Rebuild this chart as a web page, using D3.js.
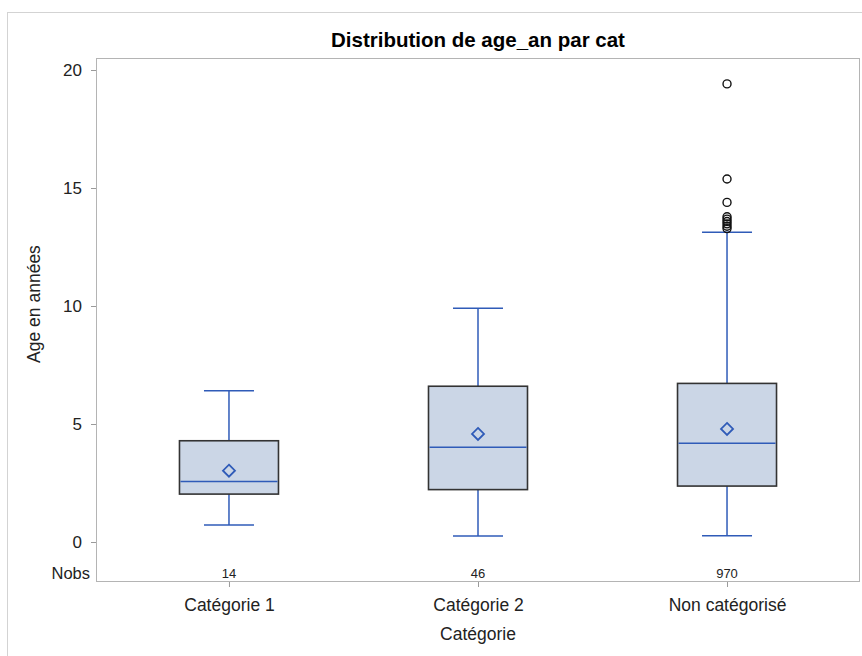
<!DOCTYPE html>
<html>
<head>
<meta charset="utf-8">
<script src="https://cdn.jsdelivr.net/npm/d3@7"></script>
<style>
  html, body { margin: 0; padding: 0; background: #fff; }
  svg { display: block; font-family: "Liberation Sans", Arial, sans-serif; }
</style>
</head>
<body>
<svg id="chart" width="862" height="656"></svg>
<script>
// Summary statistics per category (ages in years)
const categories = ["Catégorie 1", "Catégorie 2", "Non catégorisé"];
const nobs       = [14, 46, 970];
const whiskerLow = [0.72, 0.25, 0.27];
const q1         = [2.03, 2.22, 2.37];
const median     = [2.56, 4.01, 4.18];
const q3         = [4.29, 6.60, 6.72];
const whiskerHigh= [6.41, 9.90, 13.12];
const means      = [3.02, 4.58, 4.79];
const outliers   = [[], [], [19.41, 15.38, 14.39, 13.78, 13.68, 13.58, 13.48, 13.38, 13.28]];
const yTicks     = [0, 5, 10, 15, 20];

const svg = d3.select("#chart");
const W = 862, H = 656;
const plot = { left: 96, right: 860, top: 58, bottom: 582 };
const font = "Liberation Sans, Arial, sans-serif";
const textColor = "#222";

// outer frame
svg.append("rect")
  .attr("x", 7.5).attr("y", 12.5)
  .attr("width", W + 10).attr("height", H + 10)
  .attr("fill", "none").attr("stroke", "#d3d3d3").attr("stroke-width", 1);

const x = d3.scalePoint().domain(categories)
  .range([plot.left, plot.right]).padding(0.534);
const y = d3.scaleLinear().domain([0, 20]).range([542, 70]);
const boxW = 99, capW = 50;
const blue = "#2f5bb8";

// plot area border
svg.append("rect")
  .attr("x", plot.left + 0.5).attr("y", plot.top + 0.5)
  .attr("width", plot.right - plot.left - 1).attr("height", plot.bottom - plot.top - 1)
  .attr("fill", "none").attr("stroke", "#b4b4b4").attr("stroke-width", 1);

// title
svg.append("text")
  .attr("x", (plot.left + plot.right) / 2).attr("y", 47)
  .attr("text-anchor", "middle").attr("font-size", 20.5).attr("font-weight", "bold")
  .attr("fill", "#000").text("Distribution de age_an par cat");

// y axis
const yAxis = d3.axisLeft(y).tickValues(yTicks).tickSize(5).tickPadding(9);
const gy = svg.append("g").attr("transform", `translate(${plot.left},0)`).call(yAxis);
gy.select(".domain").remove();
gy.selectAll(".tick line").attr("stroke", "#9a9a9a");
gy.selectAll(".tick text").attr("font-size", 17).attr("fill", textColor)
  .attr("font-family", font);

svg.append("text")
  .attr("transform", `translate(40,304) rotate(-90)`)
  .attr("text-anchor", "middle").attr("font-size", 17.5).attr("fill", textColor)
  .text("Age en années");

// x axis
const xAxis = d3.axisBottom(x).tickSize(5).tickPadding(12);
const gx = svg.append("g").attr("transform", `translate(0,${plot.bottom})`).call(xAxis);
gx.select(".domain").remove();
gx.selectAll(".tick line").attr("stroke", "#9a9a9a");
gx.selectAll(".tick text").attr("font-size", 17.5).attr("fill", textColor)
  .attr("font-family", font);

svg.append("text")
  .attr("x", (plot.left + plot.right) / 2).attr("y", 640)
  .attr("text-anchor", "middle").attr("font-size", 17.5).attr("fill", textColor)
  .text("Catégorie");

// Nobs inset row
svg.append("text")
  .attr("x", 90).attr("y", 579).attr("text-anchor", "end")
  .attr("font-size", 16.5).attr("fill", textColor).text("Nobs");

svg.append("g").selectAll("text").data(categories).join("text")
  .attr("x", d => x(d)).attr("y", 578)
  .attr("text-anchor", "middle").attr("font-size", 13).attr("fill", textColor)
  .text((d, i) => nobs[i]);

// boxes
const g = svg.append("g");
categories.forEach((c, i) => {
  const cx = x(c);
  // whiskers
  g.append("line").attr("x1", cx).attr("x2", cx)
    .attr("y1", y(q3[i])).attr("y2", y(whiskerHigh[i]))
    .attr("stroke", blue).attr("stroke-width", 1.5);
  g.append("line").attr("x1", cx).attr("x2", cx)
    .attr("y1", y(q1[i])).attr("y2", y(whiskerLow[i]))
    .attr("stroke", blue).attr("stroke-width", 1.5);
  g.append("line").attr("x1", cx - capW / 2).attr("x2", cx + capW / 2)
    .attr("y1", y(whiskerHigh[i])).attr("y2", y(whiskerHigh[i]))
    .attr("stroke", blue).attr("stroke-width", 1.5);
  g.append("line").attr("x1", cx - capW / 2).attr("x2", cx + capW / 2)
    .attr("y1", y(whiskerLow[i])).attr("y2", y(whiskerLow[i]))
    .attr("stroke", blue).attr("stroke-width", 1.5);
  // box
  g.append("rect")
    .attr("x", cx - boxW / 2).attr("y", y(q3[i]))
    .attr("width", boxW).attr("height", y(q1[i]) - y(q3[i]))
    .attr("fill", "#cbd6e6").attr("stroke", "#333").attr("stroke-width", 1.6);
  // median
  g.append("line").attr("x1", cx - boxW / 2 + 1).attr("x2", cx + boxW / 2 - 1)
    .attr("y1", y(median[i])).attr("y2", y(median[i]))
    .attr("stroke", blue).attr("stroke-width", 1.5);
  // mean diamond
  const my = y(means[i]), r = 6;
  g.append("path")
    .attr("d", `M${cx},${my - r}L${cx + r},${my}L${cx},${my + r}L${cx - r},${my}Z`)
    .attr("fill", "none").attr("stroke", blue).attr("stroke-width", 1.8);
  // outliers
  g.selectAll(null).data(outliers[i]).join("circle")
    .attr("cx", cx).attr("cy", d => y(d)).attr("r", 4)
    .attr("fill", "none").attr("stroke", "#111").attr("stroke-width", 1.4);
});
</script>
</body>
</html>
